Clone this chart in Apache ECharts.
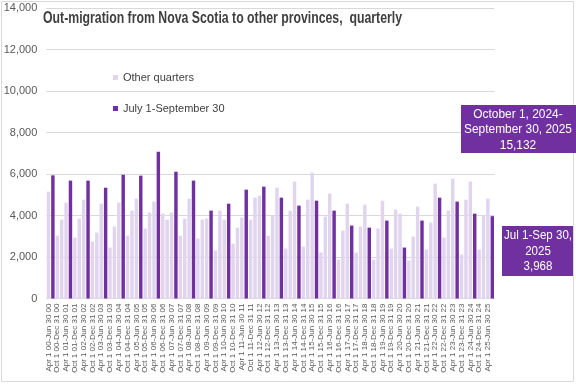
<!DOCTYPE html>
<html>
<head>
<meta charset="utf-8">
<script src="https://cdn.jsdelivr.net/npm/echarts@6/dist/echarts.min.js"></script>
<style>
html,body{margin:0;padding:0;background:#fff;}
#chart{width:576px;height:385px;}
</style>
</head>
<body>
<div id="chart"></div>
<script>
const categories = [
"Apr 1 00-Jun 30 00","Jul 1 00-Sep 30 00","Oct 1 00-Dec 31 00","Jan 1 01-Mar 31 01",
"Apr 1 01-Jun 30 01","Jul 1 01-Sep 30 01","Oct 1 01-Dec 31 01","Jan 1 02-Mar 31 02",
"Apr 1 02-Jun 30 02","Jul 1 02-Sep 30 02","Oct 1 02-Dec 31 02","Jan 1 03-Mar 31 03",
"Apr 1 03-Jun 30 03","Jul 1 03-Sep 30 03","Oct 1 03-Dec 31 03","Jan 1 04-Mar 31 04",
"Apr 1 04-Jun 30 04","Jul 1 04-Sep 30 04","Oct 1 04-Dec 31 04","Jan 1 05-Mar 31 05",
"Apr 1 05-Jun 30 05","Jul 1 05-Sep 30 05","Oct 1 05-Dec 31 05","Jan 1 06-Mar 31 06",
"Apr 1 06-Jun 30 06","Jul 1 06-Sep 30 06","Oct 1 06-Dec 31 06","Jan 1 07-Mar 31 07",
"Apr 1 07-Jun 30 07","Jul 1 07-Sep 30 07","Oct 1 07-Dec 31 07","Jan 1 08-Mar 31 08",
"Apr 1 08-Jun 30 08","Jul 1 08-Sep 30 08","Oct 1 08-Dec 31 08","Jan 1 09-Mar 31 09",
"Apr 1 09-Jun 30 09","Jul 1 09-Sep 30 09","Oct 1 09-Dec 31 09","Jan 1 10-Mar 31 10",
"Apr 1 10-Jun 30 10","Jul 1 10-Sep 30 10","Oct 1 10-Dec 31 10","Jan 1 11-Mar 31 11",
"Apr 1 11-Jun 30 11","Jul 1 11-Sep 30 11","Oct 1 11-Dec 31 11","Jan 1 12-Mar 31 12",
"Apr 1 12-Jun 30 12","Jul 1 12-Sep 30 12","Oct 1 12-Dec 31 12","Jan 1 13-Mar 31 13",
"Apr 1 13-Jun 30 13","Jul 1 13-Sep 30 13","Oct 1 13-Dec 31 13","Jan 1 14-Mar 31 14",
"Apr 1 14-Jun 30 14","Jul 1 14-Sep 30 14","Oct 1 14-Dec 31 14","Jan 1 15-Mar 31 15",
"Apr 1 15-Jun 30 15","Jul 1 15-Sep 30 15","Oct 1 15-Dec 31 15","Jan 1 16-Mar 31 16",
"Apr 1 16-Jun 30 16","Jul 1 16-Sep 30 16","Oct 1 16-Dec 31 16","Jan 1 17-Mar 31 17",
"Apr 1 17-Jun 30 17","Jul 1 17-Sep 30 17","Oct 1 17-Dec 31 17","Jan 1 18-Mar 31 18",
"Apr 1 18-Jun 30 18","Jul 1 18-Sep 30 18","Oct 1 18-Dec 31 18","Jan 1 19-Mar 31 19",
"Apr 1 19-Jun 30 19","Jul 1 19-Sep 30 19","Oct 1 19-Dec 31 19","Jan 1 20-Mar 31 20",
"Apr 1 20-Jun 30 20","Jul 1 20-Sep 30 20","Oct 1 20-Dec 31 20","Jan 1 21-Mar 31 21",
"Apr 1 21-Jun 30 21","Jul 1 21-Sep 30 21","Oct 1 21-Dec 31 21","Jan 1 22-Mar 31 22",
"Apr 1 22-Jun 30 22","Jul 1 22-Sep 30 22","Oct 1 22-Dec 31 22","Jan 1 23-Mar 31 23",
"Apr 1 23-Jun 30 23","Jul 1 23-Sep 30 23","Oct 1 23-Dec 31 23","Jan 1 24-Mar 31 24",
"Apr 1 24-Jun 30 24","Jul 1 24-Sep 30 24","Oct 1 24-Dec 31 24","Jan 1 25-Mar 31 25",
"Apr 1 25-Jun 30 25","Jul 1 25-Sep 30 25"
];

// Other quarters (Apr-Jun, Oct-Dec, Jan-Mar); null in Jul-Sep slots
const otherQuarters = [
5150,null,3030,3800, 4620,null,2935,3850, 4765,null,2745,3175, 4570,null,2455,3465,
4620,null,3030,4235, 4810,null,3370,4140, 4670,null,4090,3800, 4140,null,3030,3850,
4810,null,2890,3800, 3850,null,2310,4235, 3800,null,2645,3415, 3900,null,3800,4860,
4955,null,3030,3995, 5340,null,2405,4235, 5630,null,2500,4765, 6065,null,2215,3945,
5055,null,1875,3270, 4570,null,2215,3465, 4525,null,1875,3370, 4715,null,2405,4280,
4090,null,1830,2985, 4425,null,2360,3655, 5535,null,2935,4235, 5775,null,2115,4765,
5630,null,2360,3995, 4810,null
];

// July 1-September 30 quarters; null in other slots
const julySep = [
null,5935,null,null, null,5680,null,null, null,5680,null,null, null,5340,null,null,
null,5965,null,null, null,5920,null,null, null,7075,null,null, null,6110,null,null,
null,5680,null,null, null,4235,null,null, null,4570,null,null, null,5245,null,null,
null,5390,null,null, null,4860,null,null, null,4475,null,null, null,4715,null,null,
null,4235,null,null, null,3515,null,null, null,3415,null,null, null,3755,null,null,
null,2455,null,null, null,3755,null,null, null,4860,null,null, null,4670,null,null,
null,4090,null,null, null,3968
];

const yTicks = [0,2000,4000,6000,8000,10000,12000,14000];

const titleText = "Out-migration from Nova Scotia to other provinces,  quarterly";
const seriesNames = ["Other quarters","July 1-September 30"];
const note1 = ["October 1, 2024-","September 30, 2025","15,132"];
const note2 = ["Jul 1-Sep 30,","2025","3,968"];

const baseFont = '"Liberation Sans",Arial,sans-serif';
const ctx = document.createElement('canvas').getContext('2d');
function widthOf(text, font){ ctx.font = font; return ctx.measureText(text).width; }
function fitScale(lines, font, target){
  let w = 0; lines.forEach(l => { w = Math.max(w, widthOf(l, font)); });
  return target / w;
}

const titleFont = 'bold 16px ' + baseFont;
const titleScale = fitScale([titleText], titleFont, 359);
const noteFont = '13.5px ' + baseFont;
const note1Scale = fitScale(note1, noteFont, 108);
const note2Scale = fitScale(note2, noteFont, 68);

const chart = echarts.init(document.getElementById('chart'), null, {renderer:'canvas'});

chart.setOption({
  animation:false,
  backgroundColor:'#ffffff',
  grid:{left:46.3, right:81.5, top:8, bottom:86.5, containLabel:false},
  legend:{
    orient:'vertical', left:108, top:67, itemGap:20,
    icon:'rect', itemWidth:5, itemHeight:5,
    textStyle:{fontFamily:baseFont, fontSize:11, color:'#404040'},
    data:seriesNames
  },
  xAxis:{
    type:'category', data:categories, boundaryGap:true,
    axisLine:{show:true, lineStyle:{color:'#D9D9D9'}},
    axisTick:{show:false},
    axisLabel:{interval:1, rotate:90, fontSize:8, color:'#595959', fontFamily:baseFont, margin:5}
  },
  yAxis:{
    type:'value', min:yTicks[0], max:yTicks[yTicks.length-1], interval:2000,
    axisLine:{show:false}, axisTick:{show:false},
    splitLine:{lineStyle:{color:'#D9D9D9', width:1}},
    axisLabel:{color:'#595959', fontSize:11, fontFamily:baseFont, margin:9,
      formatter:v=>v.toLocaleString('en-US')}
  },
  series:[
    {name:seriesNames[0], type:'bar', stack:'q', data:otherQuarters, barWidth:'78%',
     itemStyle:{color:'#E0D4EE'}},
    {name:seriesNames[1], type:'bar', stack:'q', data:julySep, barWidth:'78%',
     itemStyle:{color:'#7030A0'}}
  ],
  graphic:[
    {type:'rect', shape:{x:1.5, y:1.5, width:572, height:380}, style:{fill:null, stroke:'#D9D9D9', lineWidth:1}, silent:true, z:-1},
    {type:'text', x:43, y:19, scaleX:titleScale, z:10,
      style:{text:titleText, x:0, y:0, align:'left', verticalAlign:'middle', fill:'#404040', font:titleFont}},
    {type:'rect', x:461, y:105, shape:{x:0, y:0, width:115, height:48}, style:{fill:'#7030A0'}, z:10},
    {type:'text', x:518, y:129.5, scaleX:note1Scale, z:11,
      style:{text:note1.join('\n'), x:0, y:0, align:'center', verticalAlign:'middle',
        fill:'#ffffff', font:noteFont, lineHeight:15.5}},
    {type:'rect', x:502, y:226, shape:{x:0, y:0, width:71, height:50}, style:{fill:'#7030A0'}, z:10},
    {type:'text', x:538, y:251, scaleX:note2Scale, z:11,
      style:{text:note2.join('\n'), x:0, y:0, align:'center', verticalAlign:'middle',
        fill:'#ffffff', font:noteFont, lineHeight:15.5}}
  ]
});
</script>
</body>
</html>
